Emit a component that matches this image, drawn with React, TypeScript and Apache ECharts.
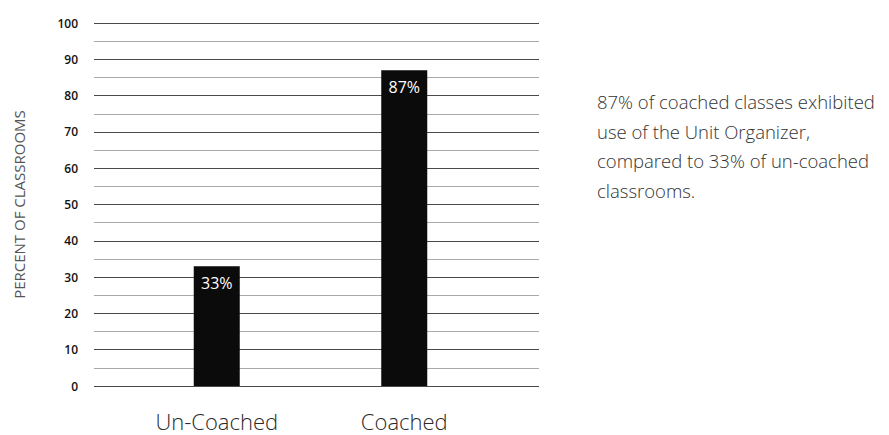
import React, { useEffect, useRef } from "react";
import * as echarts from "echarts";

const categories = ["Un-Coached", "Coached"];
const values = [33, 87];
const valueLabels = ["33%", "87%"];
const yTicks = [0, 10, 20, 30, 40, 50, 60, 70, 80, 90, 100];
const yAxisTitle = "PERCENT OF CLASSROOMS";
const noteLines = [
  "87% of coached classes exhibited",
  "use of the Unit Organizer,",
  "compared to 33% of un-coached",
  "classrooms.",
];

export default function App() {
  const ref = useRef<HTMLDivElement>(null);
  useEffect(() => {
    document.body.style.margin = "0";
    const chart = echarts.init(ref.current!, null, { renderer: "svg" });
    const yMin = yTicks[0];
    const yMax = yTicks[yTicks.length - 1];
    const font = "'Open Sans', 'Noto Sans', sans-serif";
    chart.setOption({
      animation: false,
      backgroundColor: "#ffffff",
      grid: [
        { left: 94, right: 350, top: 23, bottom: 49 },
        { left: 123, right: 391, top: 23, bottom: 49 },
      ],
      xAxis: [
        { gridIndex: 0, type: "value", show: false, min: 0, max: 1 },
        {
          gridIndex: 1,
          type: "category",
          data: categories,
          axisLine: { show: false },
          axisTick: { show: false },
          axisLabel: {
            margin: 24,
            fontSize: 22,
            lineHeight: 22,
            fontFamily: font,
            fontWeight: 300,
            color: "#2a2a2a",
          },
        },
      ],
      yAxis: [
        {
          gridIndex: 0,
          type: "value",
          min: yMin,
          max: yMax,
          interval: 10,
          name: yAxisTitle,
          nameLocation: "middle",
          nameGap: 68,
          nameTextStyle: {
            fontSize: 15,
            fontFamily: font,
            fontWeight: 400,
            color: "#555555",
          },
          axisLine: { show: false },
          axisTick: { show: false },
          axisLabel: {
            margin: 16,
            fontSize: 12,
            fontWeight: 600,
            fontFamily: font,
            color: "#111111",
          },
          splitLine: { show: true, lineStyle: { color: "#4a4a4a", width: 1 } },
          minorTick: { show: false, splitNumber: 2 },
          minorSplitLine: { show: true, lineStyle: { color: "#aaaaaa", width: 1 } },
        },
        {
          gridIndex: 1,
          type: "value",
          min: yMin,
          max: yMax,
          show: false,
          splitLine: { show: false },
        },
      ],
      series: [
        {
          type: "bar",
          xAxisIndex: 1,
          yAxisIndex: 1,
          data: values,
          barWidth: 46,
          itemStyle: { color: "#0b0b0b" },
          label: {
            show: true,
            position: "insideTop",
            distance: 9,
            color: "#ffffff",
            fontSize: 16,
            fontFamily: font,
            formatter: (p: any) => valueLabels[p.dataIndex],
          },
        },
      ],
      graphic: noteLines.map((t, i) => ({
        type: "text",
        left: 597,
        top: 92 + i * 29.5,
        style: {
          text: t,
          fontSize: 18.5,
          fontFamily: font,
          fontWeight: 300,
          fill: "#333333",
        },
      })),
    });
    return () => chart.dispose();
  }, []);
  return <div ref={ref} style={{ width: 889, height: 435 }} />;
}
